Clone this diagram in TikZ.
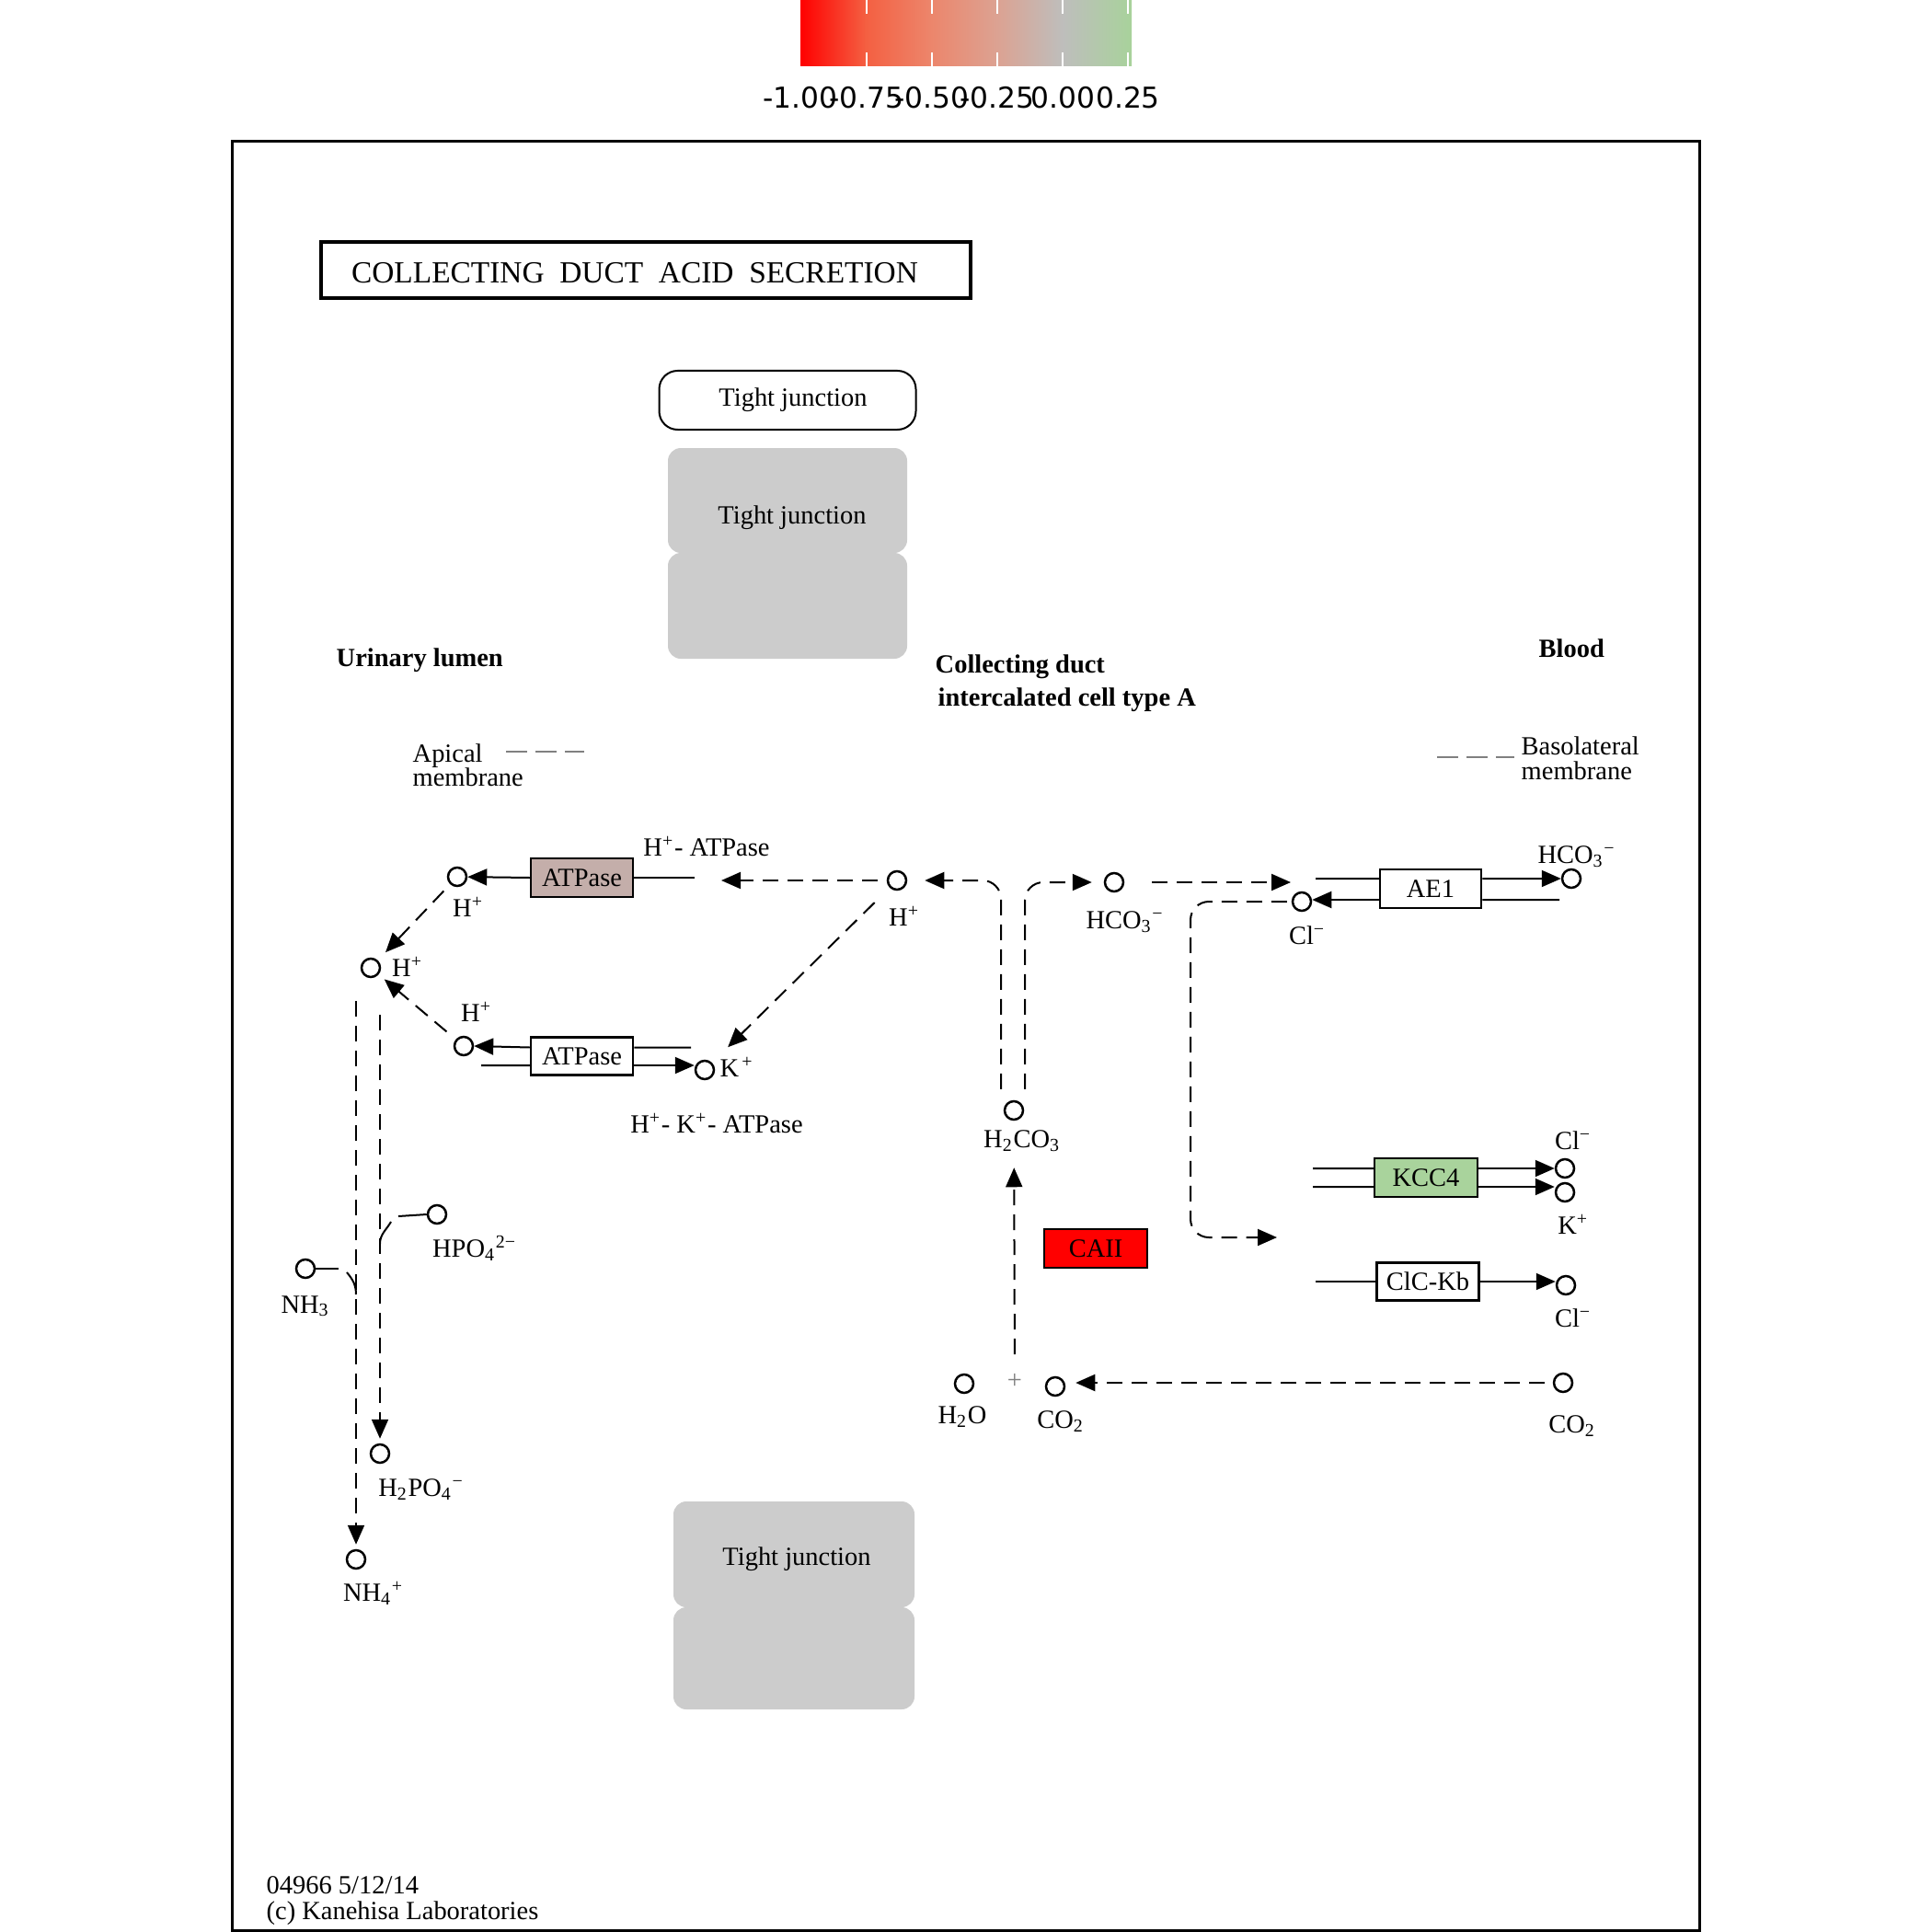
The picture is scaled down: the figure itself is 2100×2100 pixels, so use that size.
\documentclass[tikz,border=0pt]{standalone}
\usepackage{fontspec}
\setmainfont{Liberation Serif}
\newfontfamily\barfont{DejaVu Sans}
\usetikzlibrary{arrows.meta,calc}
\definecolor{tjgray}{HTML}{CCCCCC}
\definecolor{atpcol}{RGB}{196,174,170}
\definecolor{kcccol}{RGB}{169,211,156}
\definecolor{cbA}{RGB}{255,0,0}
\definecolor{cbB}{RGB}{244,96,66}
\definecolor{cbC}{RGB}{236,134,108}
\definecolor{cbD}{RGB}{220,162,146}
\definecolor{cbE}{RGB}{190,190,188}
\definecolor{cbF}{RGB}{168,210,155}
\begin{document}
\begin{tikzpicture}[x=0.1mm,y=-0.1mm,
  lbl/.style={inner sep=0pt, font=\fontsize{8.1}{9.5}\selectfont},
  blbl/.style={inner sep=0pt, font=\fontsize{8.1}{9.5}\selectfont\bfseries},
  barlbl/.style={inner sep=0pt, anchor=base, font=\barfont\fontsize{8.9}{10}\selectfont},
  mol/.style={circle, draw, line width=0.25mm, minimum size=2mm, inner sep=0pt, fill=white},
  gene/.style={draw, line width=0.25mm, minimum width=11.1mm, minimum height=4.1mm, inner sep=0pt, font=\fontsize{8.1}{9.5}\selectfont},
  conn/.style={line width=0.2mm},
  arr/.style={conn, -{Triangle[length=2.1mm,width=1.8mm]}},
  darr/.style={arr, dash pattern=on 1.7mm off 1mm},
  memdash/.style={gray, line width=0.2mm, dash pattern=on 2.3mm off 0.9mm},
  tjbox/.style={fill=tjgray, rounded corners=1.4mm, inner sep=0pt},
]
\useasboundingbox (0,0) rectangle (2100,2100);

% ---------- colour bar ----------
\shade[left color=cbA, right color=cbB] (870,0) rectangle (941.7,72);
\shade[left color=cbB, right color=cbC] (941.7,0) rectangle (1012.7,72);
\shade[left color=cbC, right color=cbD] (1012.7,0) rectangle (1083.7,72);
\shade[left color=cbD, right color=cbE] (1083.7,0) rectangle (1155.3,72);
\shade[left color=cbE, right color=cbF] (1155.3,0) rectangle (1230,72);
\foreach \tx in {941.7,1012.7,1083.7,1155.3,1226}{
  \draw[white, line width=0.2mm] (\tx,0) -- (\tx,15);
  \draw[white, line width=0.2mm] (\tx,57) -- (\tx,72);
}
\node[barlbl] (cbl1) at (870,118) {-1.00};
\node[barlbl] (cbl2) at (941.7,118) {-0.75};
\node[barlbl] (cbl3) at (1012.7,118) {-0.50};
\node[barlbl] (cbl4) at (1083.7,118) {-0.25};
\node[barlbl] (cbl5) at (1155.3,118) {0.00};
\node[barlbl] (cbl6) at (1226,118) {0.25};

% ---------- frame and title ----------
\draw[line width=0.3mm] (252,154) rectangle (1847,2098);
\node[draw, line width=0.4mm, minimum width=70.6mm, minimum height=6.1mm, inner sep=0pt] (titlebox) at (701.5,294) {};
\node[inner sep=0pt, font=\fontsize{9.5}{11}\selectfont] (title) at (690,297) {COLLECTING\hspace{0.5em}DUCT\hspace{0.5em}ACID\hspace{0.5em}SECRETION};

% ---------- tight junctions ----------
\node[draw, line width=0.2mm, rounded corners=2mm, minimum width=27.9mm, minimum height=6.4mm, inner sep=0pt, font=\fontsize{8.1}{9.5}\selectfont] (tj0) at (856,435) {\hspace{1.2mm}Tight junction};
\node[tjbox, minimum width=26mm, minimum height=11.4mm] (tj1a) at (856,544) {};
\node[tjbox, minimum width=26mm, minimum height=11.5mm] (tj1b) at (856,658.5) {};
\node[lbl] (tj1t) at (861,563) {Tight junction};
\node[tjbox, minimum width=26.2mm, minimum height=11.5mm] (tj2a) at (863,1689.5) {};
\node[tjbox, minimum width=26.2mm, minimum height=11.1mm] (tj2b) at (863,1802.5) {};
\node[lbl] (tj2t) at (866,1695) {Tight junction};

% ---------- region labels ----------
\node[blbl, anchor=base west] (urin) at (365,724) {Urinary lumen};
\node[blbl, anchor=base west] (cd1) at (1016,731) {Collecting duct};
\node[blbl, anchor=base west] (cd2) at (1019,767) {intercalated cell type A};
\node[blbl, anchor=base west] (blood) at (1672,714) {Blood};
\node[lbl, anchor=base west] (apic1) at (448,828) {Apical};
\node[lbl, anchor=base west] (apic2) at (448,854) {membrane};
\node[lbl, anchor=base west] (baso1) at (1653,820) {Basolateral};
\node[lbl, anchor=base west] (baso2) at (1653,847) {membrane};
\coordinate (apd1) at (550,817); \coordinate (apd2) at (635,817);
\coordinate (bsd1) at (1562,823); \coordinate (bsd2) at (1646,823);
\draw[memdash] (apd1) -- (apd2);
\draw[memdash] (bsd1) -- (bsd2);

% ---------- gene boxes ----------
\node[gene, fill=atpcol, minimum height=4.2mm] (atp1) at (632.5,954) {ATPase};
\node[gene, fill=white] (atp2) at (632.5,1148) {ATPase};
\node[gene, fill=white, minimum width=11mm, minimum height=4.2mm] (ae1) at (1555,966) {AE1};
\node[gene, fill=kcccol, minimum width=11.2mm, minimum height=4.2mm] (kcc4) at (1550,1280) {KCC4};
\node[gene, fill=white] (clckb) at (1552,1393) {ClC-Kb};
\node[gene, fill=red, minimum width=11.2mm, minimum height=4.2mm] (caii) at (1191,1357) {CAII};

% ---------- compounds ----------
\node[mol] (hA) at (497,953) {};
\node[mol] (hB) at (975,957) {};
\node[mol] (hL) at (403,1052) {};
\node[mol] (hC) at (504,1137) {};
\node[mol] (kA) at (766,1163) {};
\node[mol] (hco3A) at (1211,959) {};
\node[mol] (h2co3) at (1102,1207) {};
\node[mol] (h2o) at (1048,1504) {};
\node[mol] (co2A) at (1147,1507) {};
\node[mol] (co2B) at (1699,1503) {};
\node[mol] (hco3B) at (1708,955) {};
\node[mol] (clA) at (1415,980) {};
\node[mol] (clB) at (1701,1270) {};
\node[mol] (kB) at (1701,1296) {};
\node[mol] (clC) at (1702,1397) {};
\node[mol] (hpo4) at (475,1320) {};
\node[mol] (nh3) at (332,1379) {};
\node[mol] (h2po4) at (413,1580) {};
\node[mol] (nh4) at (387,1695) {};
\node[inner sep=0pt, text=gray, font=\fontsize{8.1}{9.5}\selectfont] (plus) at (1103,1501) {+};

% ---------- compound labels ----------
\node[lbl] (lhA) at (509,986) {H\textsuperscript{+}};
\node[lbl] (lhB) at (983,996) {H\textsuperscript{+}};
\node[lbl] (lhL) at (443,1051) {H\textsuperscript{+}};
\node[lbl] (lhC) at (518,1100) {H\textsuperscript{+}};
\node[lbl] (lkA) at (801,1160) {K\textsuperscript{\,+}};
\node[lbl] (lhatp) at (768,920) {H\textsuperscript{+}- ATPase};
\node[lbl] (lhkatp) at (779,1221) {H\textsuperscript{+}- K\textsuperscript{+}- ATPase};
\node[lbl] (lhco3A) at (1223,1002) {HCO\textsubscript{3}\textsuperscript{−}};
\node[lbl] (lhco3B) at (1714,931) {HCO\textsubscript{3}\textsuperscript{−}};
\node[lbl] (lclA) at (1421,1017) {Cl\textsuperscript{−}};
\node[lbl] (lh2co3) at (1111,1240) {H\textsubscript{2}CO\textsubscript{3}};
\node[lbl] (lclB) at (1710,1240) {Cl\textsuperscript{−}};
\node[lbl] (lkB) at (1710,1331) {K\textsuperscript{+}};
\node[lbl] (lclC) at (1710,1433) {Cl\textsuperscript{−}};
\node[lbl] (lco2B) at (1709,1550) {CO\textsubscript{2}};
\node[lbl] (lh2o) at (1046,1540) {H\textsubscript{2}O};
\node[lbl] (lco2A) at (1153,1545) {CO\textsubscript{2}};
\node[lbl] (lhpo4) at (516,1357) {HPO\textsubscript{4}\textsuperscript{2−}};
\node[lbl] (lnh3) at (332,1420) {NH\textsubscript{3}};
\node[lbl] (lh2po4) at (458,1619) {H\textsubscript{2}PO\textsubscript{4}\textsuperscript{−}};
\node[lbl] (lnh4) at (406,1732) {NH\textsubscript{4}\textsuperscript{+}};

% ---------- footer ----------
\node[lbl, anchor=base west] (foot1) at (289,2058) {04966 5/12/14};
\node[lbl, anchor=base west] (foot2) at (289,2086) {(c) Kanehisa Laboratories};

% ---------- free ends ----------
\coordinate (c1) at (755,954);
\coordinate (c2) at (784,957);
\coordinate (c3) at (751,1138.5);
\coordinate (c4) at (523,1158);
\coordinate (c7) at (1403,959);
\coordinate (c8) at (1430,955);
\coordinate (c9) at (1695,978);
\coordinate (c10) at (1294,1345);
\coordinate (c11) at (1388,1345);
\coordinate (c12) at (1427,1270);
\coordinate (c13) at (1427,1290);
\coordinate (c14) at (1430,1393);
\coordinate (c16) at (433,1322);
\coordinate (c17) at (425,1328);
\coordinate (c18) at (413,1352);
\coordinate (c19) at (368,1379);
\coordinate (c20) at (377,1383);
\coordinate (c21) at (387,1407);

% ---------- H+-ATPase ----------
\draw[arr] (atp1.west) -- (hA);
\draw[conn] (atp1.east) -- (c1);
\draw[darr, shorten <=1mm] (hB.west) -- (c2);
\draw[darr, shorten <=1mm, shorten >=1.2mm] (hA) -- (hL);

% ---------- H+-K+-ATPase ----------
\draw[arr] ([yshift=0.95mm]atp2.west) -- (hC.east);
\draw[conn] ([yshift=0.95mm]atp2.east) -- (c3);
\draw[conn] (c4) -- ([yshift=-1mm]atp2.west);
\draw[arr] ([yshift=-1mm]atp2.east) -- ([yshift=-1mm]atp2.east -| kA.west);
\draw[darr, shorten <=1.3mm, shorten >=0.8mm] (hC) -- (hL);
\draw[darr, shorten <=2.3mm, shorten >=2.4mm] (hB) -- (kA);

% ---------- H2CO3 split ----------
\draw[darr, rounded corners=2mm, shorten >=1.9mm] ([xshift=-1.4mm,yshift=1.2mm]h2co3.north) |- (hB.east);
\draw[darr, rounded corners=2mm, shorten >=1.3mm] ([xshift=1.2mm,yshift=1.2mm]h2co3.north) |- (hco3A.west);
\draw[darr, shorten <=2.9mm, shorten >=5.1mm] (plus.center) -- (h2co3);
\draw[darr, shorten <=0.9mm, shorten >=1.1mm] (co2B.west) -- (co2B.west -| co2A.east);

% ---------- AE1 ----------
\draw[darr, shorten <=3mm] (hco3A.east) -- (c7);
\draw[conn] (c8) -- ([yshift=1.1mm]ae1.west);
\draw[arr] ([yshift=1.1mm]ae1.east) -- (hco3B);
\draw[conn] (c9) -- ([yshift=-1.2mm]ae1.east);
\draw[arr] ([yshift=-1.2mm]ae1.west) -- ([yshift=-1.2mm]ae1.west -| clA.east);
\draw[darr, rounded corners=2mm, shorten <=0.5mm] (clA.west) -| (c10) -- (c11);

% ---------- KCC4 / ClC-Kb ----------
\draw[conn] (c12) -- ([yshift=1mm]kcc4.west);
\draw[conn] (c13) -- ([yshift=-1mm]kcc4.west);
\draw[arr] ([yshift=1mm]kcc4.east) -- ([yshift=1mm]kcc4.east -| clB.west);
\draw[arr] ([yshift=-1mm]kcc4.east) -- ([yshift=-1mm]kcc4.east -| kB.west);
\draw[conn] (c14) -- (clckb.west);
\draw[arr] (clckb.east) -- (clckb.east -| clC.west);

% ---------- ammonia / phosphate buffers ----------
\draw[darr, shorten <=2.5mm, shorten >=0.5mm] (hL.south -| nh4.north) -- (nh4.north);
\draw[darr, shorten <=4mm, shorten >=0.5mm] (hL.south -| h2po4.north) -- (h2po4.north);
\draw[conn] (hpo4.west) -- (c16);
\draw[conn] (c17) to[out=-120,in=90] (c18);
\draw[conn] (nh3.east) -- (c19);
\draw[conn] (c20) to[out=-50,in=90] (c21);
\end{tikzpicture}
\end{document}
